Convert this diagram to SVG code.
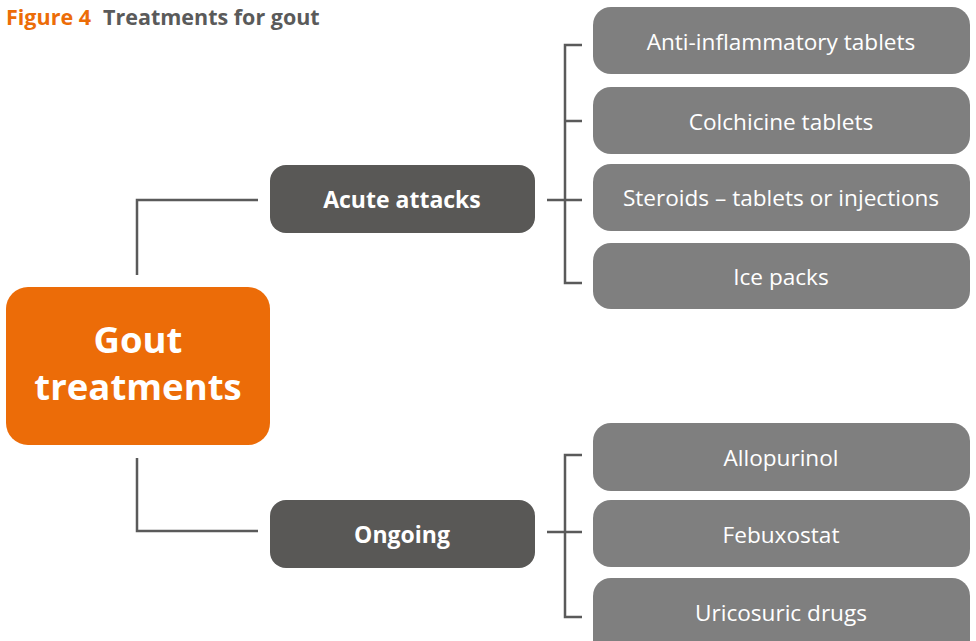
<svg xmlns="http://www.w3.org/2000/svg" width="976" height="641" viewBox="0 0 976 641">
<style>
.t{font-family:"Open Sans","Noto Sans","Liberation Sans",sans-serif;}
.leaf rect{fill:#7f7f7f;}
.leaf text{fill:#fff;font-size:22.6px;text-anchor:middle;}
.mid rect{fill:#595856;}
.mid text{fill:#fff;font-size:23px;font-weight:bold;text-anchor:middle;}
.conn{stroke:#5a5a5a;stroke-width:2.5;fill:none;}
</style>
<rect width="976" height="641" fill="#fff"/>
<text class="t" x="6" y="25" font-size="21.5" font-weight="bold"><tspan fill="#ec6c08">Figure 4</tspan><tspan fill="#5a5a5a" dx="12">Treatments for gout</tspan></text>
<g id="connectors" class="conn">
<path d="M137 275V200H258"/>
<path d="M137 458V531H258"/>
<path d="M582 45H565V283H582M565 121H582M547 200H582"/>
<path d="M582 455H565V617H582M547 532H582"/>
</g>
<g id="gout">
<rect x="6" y="287" width="264" height="158" rx="22" fill="#ec6c08"/>
<text class="t" x="138" y="353" font-size="36.5" font-weight="bold" fill="#fff" text-anchor="middle">Gout</text>
<text class="t" x="138" y="400" font-size="36.5" font-weight="bold" fill="#fff" text-anchor="middle">treatments</text>
</g>
<g id="acute" class="mid"><rect x="270" y="165" width="265" height="68" rx="16"/><text class="t" x="402" y="208">Acute attacks</text></g>
<g id="ongoing" class="mid"><rect x="270" y="500" width="265" height="68" rx="16"/><text class="t" x="402" y="543">Ongoing</text></g>
<g id="anti" class="leaf"><rect x="593" y="7" width="377" height="67" rx="18"/><text class="t" x="781" y="50">Anti-inflammatory tablets</text></g>
<g id="colchicine" class="leaf"><rect x="593" y="87" width="377" height="67" rx="18"/><text class="t" x="781" y="130">Colchicine tablets</text></g>
<g id="steroids" class="leaf"><rect x="593" y="164" width="377" height="67" rx="18"/><text class="t" x="781" y="206">Steroids – tablets or injections</text></g>
<g id="ice" class="leaf"><rect x="593" y="243" width="377" height="66" rx="18"/><text class="t" x="781" y="285">Ice packs</text></g>
<g id="allopurinol" class="leaf"><rect x="593" y="423" width="377" height="68" rx="18"/><text class="t" x="781" y="466">Allopurinol</text></g>
<g id="febuxostat" class="leaf"><rect x="593" y="500" width="377" height="67" rx="18"/><text class="t" x="781" y="543">Febuxostat</text></g>
<g id="uricosuric" class="leaf"><rect x="593" y="578" width="377" height="80" rx="18"/><text class="t" x="781" y="621">Uricosuric drugs</text></g>
</svg>
